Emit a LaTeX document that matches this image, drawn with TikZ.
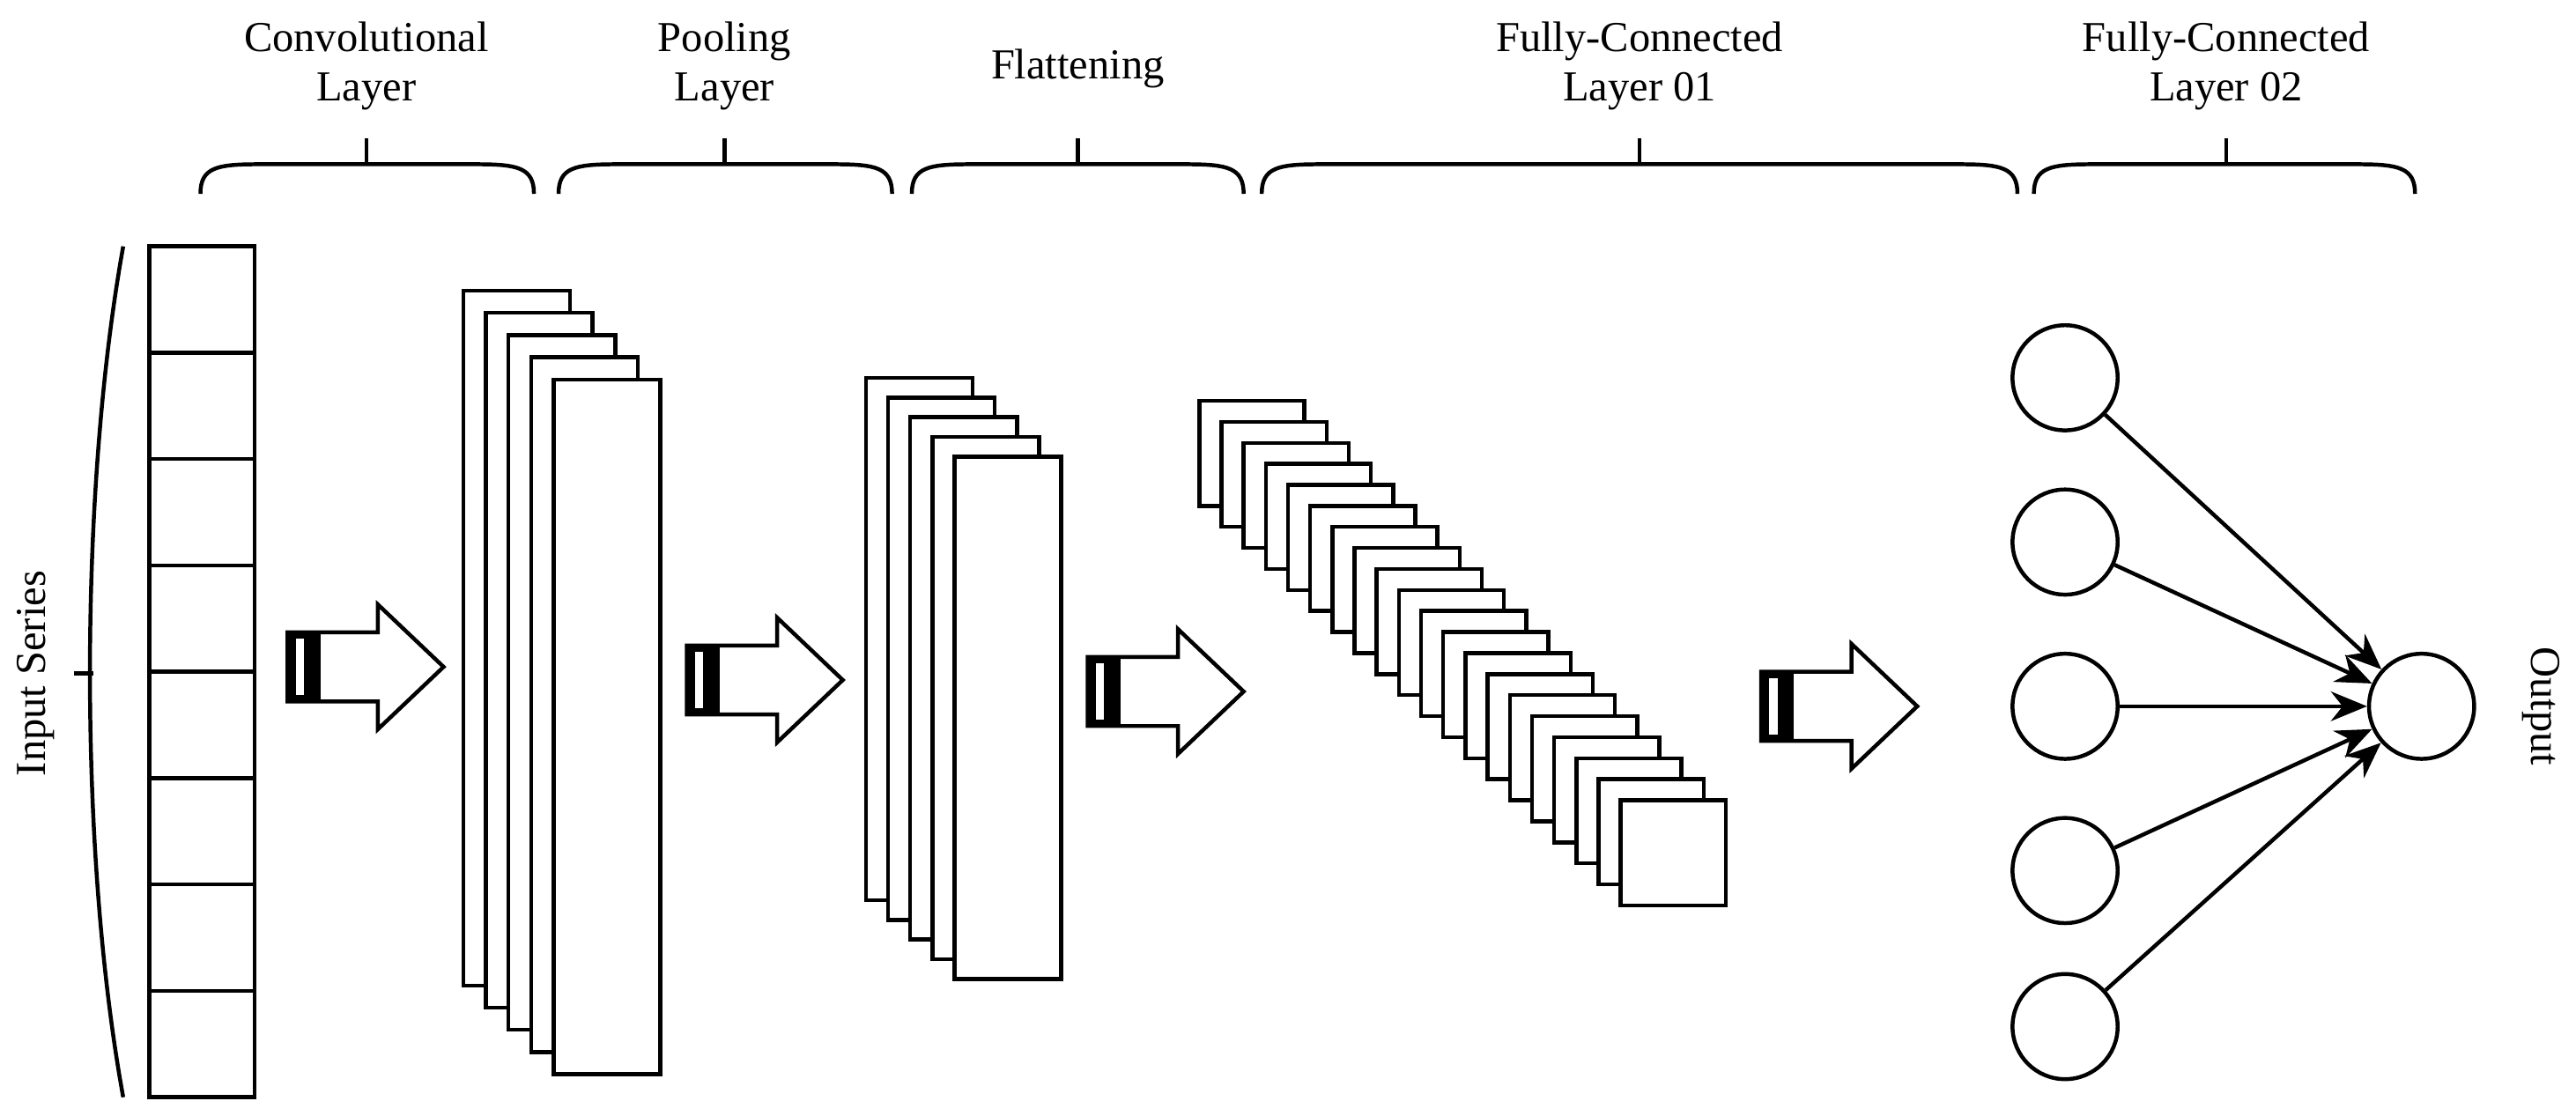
\documentclass[tikz,border=0pt]{standalone}
\usepackage{fontspec}
\setmainfont{Liberation Serif}
\usetikzlibrary{arrows.meta}
\begin{document}
\begin{tikzpicture}[x=1pt,y=-1pt,line width=2.4pt,
  lbl/.style={font=\fontsize{26}{30}\selectfont,align=center},
  box/.style={draw,fill=white},
  neuron/.style={draw,circle,minimum size=64pt,inner sep=0pt},
  conn/.style={-{Stealth[length=22pt,width=18pt]}},
  pics/bigarrow/.style={code={
    \draw[fill=white] (0,-21)--(55,-21)--(55,-38)--(95,0)--(55,38)--(55,21)--(0,21)--cycle;
    \fill (0,-21) rectangle (20,21);
    \fill[white] (5,-17) rectangle (10,17);
  }},
  brace/.style args={#1:#2}{insert path={(#1,118) .. controls (#1,102) and (#1+10,100) .. (#1+35,100) -- (#2-35,100) .. controls (#2-10,100) and (#2,102) .. (#2,118)}}
]
\useasboundingbox (0,0) rectangle (1568,679);
% input series
\draw (91,150) rectangle (155,668);
\foreach \i in {1,...,7} \draw (91,150+\i*64.75) -- (155,150+\i*64.75);
\draw (75,150) .. controls (48,300) and (48,520) .. (75,668);
\draw (45,410) -- (57,410);
\node[lbl,rotate=90] (in) at (22,410) {Input Series};
% arrows
\pic at (175,406) {bigarrow};
\pic at (418,414) {bigarrow};
\pic at (662,421) {bigarrow};
\pic at (1072,430) {bigarrow};
% conv stack
\foreach \i in {0,...,4} \draw[box] (282+\i*13.75,177+\i*13.5) rectangle ++(65,423);
% pooling stack
\foreach \i in {0,...,4} \draw[box] (527+\i*13.5,230+\i*12) rectangle ++(65,318);
% flatten stack
\foreach \i in {0,...,19} \draw[box] (730+\i*13.5,244+\i*12.8) rectangle ++(64,64);
% neurons
\foreach \n/\y in {a/230,b/330,c/430,d/530,e/625} \node[neuron] (\n) at (1257,\y) {};
\node[neuron] (o) at (1474,430) {};
\foreach \n in {a,b,c,d,e} \draw[conn] (\n) -- (o);
\node[lbl,rotate=-90] (out) at (1547,430) {Output};
% braces
\draw[brace=122:325]; \draw (223,100)--(223,84);
\draw[brace=340:543]; \draw (441,100)--(441,84);
\draw[brace=555:757]; \draw (656,100)--(656,84);
\draw[brace=768:1228]; \draw (998,100)--(998,84);
\draw[brace=1238:1470]; \draw (1355,100)--(1355,84);
\node[lbl] (t1) at (223,40) {Convolutional\\Layer};
\node[lbl] (t2) at (441,40) {Pooling\\Layer};
\node[lbl] (t3) at (656,42) {Flattening};
\node[lbl] (t4) at (998,40) {Fully-Connected\\Layer 01};
\node[lbl] (t5) at (1355,40) {Fully-Connected\\Layer 02};
\end{tikzpicture}
\end{document}
